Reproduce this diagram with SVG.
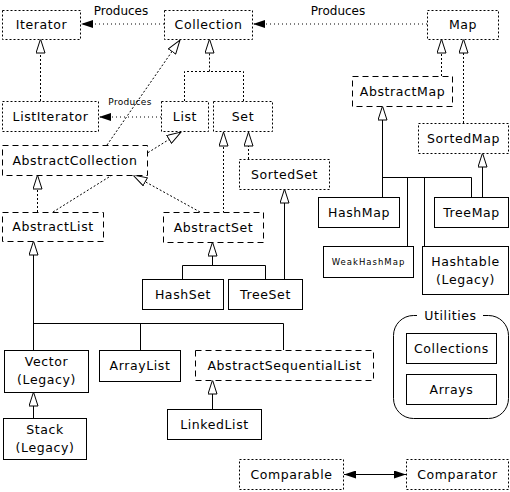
<svg xmlns="http://www.w3.org/2000/svg" width="510" height="492" viewBox="0 0 510 492">
<style>
text{font-family:"DejaVu Sans","Liberation Sans",sans-serif;font-size:12.5px;letter-spacing:0.6px;fill:#000;text-anchor:middle}
.b{fill:#fff;stroke:#000;stroke-width:1}
.i{stroke-dasharray:2 2}
.a{stroke-dasharray:6 4}
.c{fill:none;stroke:#000;stroke-width:1}
.dt{stroke-dasharray:2 2}
.pr{stroke-dasharray:1 3}
.inh{marker-end:url(#tri)}
.lb{font-size:12px;letter-spacing:0}
.sm{font-size:9px;letter-spacing:0.3px}
.xs{font-size:8.5px;letter-spacing:1px}
</style>
<defs>
<marker id="tri" markerUnits="userSpaceOnUse" viewBox="0 0 15 10" refX="14.5" refY="5" markerWidth="15" markerHeight="10" orient="auto">
<path d="M0.5,0.5 L14.5,5 L0.5,9.5 z" fill="#fff" stroke="#000" stroke-width="1"/>
</marker>
<marker id="fill" markerUnits="userSpaceOnUse" viewBox="0 0 12 8" refX="12" refY="4" markerWidth="12" markerHeight="8" orient="auto-start-reverse">
<path d="M0,0 L12,4 L0,8 z" fill="#000"/>
</marker>
</defs>
<g id="connectors">
<line class="c pr" x1="164" y1="24" x2="81" y2="24" marker-end="url(#fill)"/>
<text class="lb" x="121" y="15">Produces</text>
<line class="c pr" x1="427" y1="24" x2="253" y2="24" marker-end="url(#fill)"/>
<text class="lb" x="338" y="15">Produces</text>
<line class="c pr" x1="161" y1="117" x2="99" y2="117" marker-end="url(#fill)"/>
<text class="sm" x="130" y="105">Produces</text>
<line class="c dt inh" x1="40.5" y1="101" x2="40.5" y2="39"/>
<polyline class="c dt" points="184.5,101 184.5,71.5 243.5,71.5 243.5,101"/>
<line class="c dt inh" x1="209.5" y1="71.5" x2="209.5" y2="39"/>
<line class="c dt inh" x1="107" y1="145" x2="180" y2="40"/>
<line class="c dt inh" x1="53" y1="212" x2="181" y2="132"/>
<line class="c dt inh" x1="200" y1="212" x2="133" y2="175"/>
<line class="c dt inh" x1="37.5" y1="212" x2="37.5" y2="175"/>
<line class="c dt inh" x1="223.5" y1="213" x2="223.5" y2="132"/>
<line class="c dt inh" x1="248.5" y1="159" x2="248.5" y2="132"/>
<line class="c inh" x1="284.5" y1="279" x2="284.5" y2="189"/>
<line class="c inh" x1="212.5" y1="265.5" x2="212.5" y2="242"/>
<polyline class="c" points="182.5,279 182.5,265.5 265.5,265.5 265.5,279"/>
<line class="c inh" x1="33.5" y1="350" x2="33.5" y2="241"/>
<polyline class="c" points="33.5,323.5 283.5,323.5 283.5,350"/>
<line class="c" x1="140.5" y1="323.5" x2="140.5" y2="350"/>
<line class="c inh" x1="33.5" y1="418" x2="33.5" y2="392"/>
<line class="c inh" x1="212.5" y1="409" x2="212.5" y2="380"/>
<line class="c dt inh" x1="441.5" y1="76" x2="441.5" y2="39"/>
<line class="c dt inh" x1="463.5" y1="123" x2="463.5" y2="39"/>
<line class="c inh" x1="382.5" y1="197" x2="382.5" y2="106"/>
<polyline class="c" points="382.5,177.5 471.5,177.5 471.5,197"/>
<line class="c" x1="407.5" y1="177.5" x2="407.5" y2="246"/>
<line class="c" x1="424.5" y1="177.5" x2="424.5" y2="246"/>
<line class="c inh" x1="482.5" y1="197" x2="482.5" y2="153"/>
<line class="c" x1="344" y1="474.5" x2="406" y2="474.5" marker-start="url(#fill)" marker-end="url(#fill)"/>
</g>
<g id="Iterator"><rect class="b i" x="2.5" y="10.5" width="78" height="29"/><text x="41.5" y="29">Iterator</text></g>
<g id="Collection"><rect class="b i" x="164.5" y="10.5" width="88" height="29"/><text x="208.5" y="29">Collection</text></g>
<g id="Map"><rect class="b i" x="427.5" y="10.5" width="71" height="29"/><text x="463" y="29">Map</text></g>
<g id="ListIterator"><rect class="b i" x="2.5" y="101.5" width="96" height="30"/><text x="50.5" y="121">ListIterator</text></g>
<g id="List"><rect class="b i" x="161.5" y="101.5" width="47" height="30"/><text x="185" y="121">List</text></g>
<g id="Set"><rect class="b i" x="213.5" y="101.5" width="59" height="30"/><text x="243" y="121">Set</text></g>
<g id="AbstractCollection"><rect class="b a" x="2.5" y="145.5" width="145" height="30"/><text x="75" y="165">AbstractCollection</text></g>
<g id="SortedSet"><rect class="b i" x="239.5" y="159.5" width="90" height="30"/><text x="284.5" y="179">SortedSet</text></g>
<g id="AbstractList"><rect class="b a" x="2.5" y="212.5" width="101" height="29"/><text x="53" y="231">AbstractList</text></g>
<g id="AbstractSet"><rect class="b a" x="163.5" y="212.5" width="100" height="30"/><text x="213.5" y="232">AbstractSet</text></g>
<g id="HashSet"><rect class="b" x="142.5" y="279.5" width="81" height="30"/><text x="183" y="299">HashSet</text></g>
<g id="TreeSet"><rect class="b" x="228.5" y="279.5" width="74" height="30"/><text x="265.5" y="299">TreeSet</text></g>
<g id="AbstractMap"><rect class="b a" x="352.5" y="76.5" width="100" height="30"/><text x="402.5" y="96">AbstractMap</text></g>
<g id="SortedMap"><rect class="b i" x="418.5" y="123.5" width="90" height="30"/><text x="463.5" y="143">SortedMap</text></g>
<g id="HashMap"><rect class="b" x="318.5" y="197.5" width="81" height="30"/><text x="359" y="217">HashMap</text></g>
<g id="TreeMap"><rect class="b" x="434.5" y="197.5" width="74" height="30"/><text x="471.5" y="217">TreeMap</text></g>
<g id="WeakHashMap"><rect class="b" x="323.5" y="246.5" width="90" height="31"/><text class="xs" x="368.5" y="265">WeakHashMap</text></g>
<g id="Hashtable"><rect class="b" x="422.5" y="246.5" width="86" height="48"/><text x="465.5" y="266">Hashtable</text><text x="465.5" y="284">(Legacy)</text></g>
<g id="Vector"><rect class="b" x="4.5" y="350.5" width="84" height="42"/><text x="46.5" y="366">Vector</text><text x="46.5" y="384">(Legacy)</text></g>
<g id="ArrayList"><rect class="b" x="99.5" y="350.5" width="81" height="31"/><text x="140" y="370">ArrayList</text></g>
<g id="AbstractSequentialList"><rect class="b a" x="195.5" y="350.5" width="178" height="30"/><text x="284.5" y="370">AbstractSequentialList</text></g>
<g id="Stack"><rect class="b" x="3.5" y="418.5" width="83" height="41"/><text x="45" y="434">Stack</text><text x="45" y="452">(Legacy)</text></g>
<g id="LinkedList"><rect class="b" x="167.5" y="409.5" width="94" height="30"/><text x="214.5" y="429">LinkedList</text></g>
<g id="Utilities"><rect class="c" x="393.5" y="315.5" width="115" height="103" rx="20" ry="20"/><rect x="417" y="308" width="66" height="14" fill="#fff"/><text x="450.5" y="320">Utilities</text>
<g id="Collections"><rect class="b" x="406.5" y="333.5" width="90" height="30"/><text x="451.5" y="353">Collections</text></g>
<g id="Arrays"><rect class="b" x="406.5" y="374.5" width="90" height="30"/><text x="451.5" y="394">Arrays</text></g></g>
<g id="Comparable"><rect class="b i" x="239.5" y="459.5" width="104" height="30"/><text x="291.5" y="479">Comparable</text></g>
<g id="Comparator"><rect class="b i" x="406.5" y="459.5" width="102" height="30"/><text x="457.5" y="479">Comparator</text></g>
</svg>
